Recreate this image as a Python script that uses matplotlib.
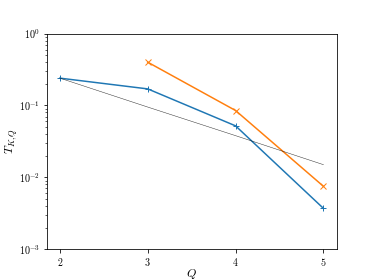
import numpy as np
import matplotlib
matplotlib.use('Agg')
import matplotlib.pyplot as plt

plt.rcParams['font.family'] = 'serif'
plt.rcParams['font.serif'] = ['cmr10']
plt.rcParams['mathtext.fontset'] = 'cm'
plt.rcParams['axes.formatter.use_mathtext'] = True

Q_blue = [2, 3, 4, 5]
T_blue = [0.24, 0.17, 0.052, 0.0037]
Q_orange = [3, 4, 5]
T_orange = [0.40, 0.085, 0.0075]
Q_fit = [2, 3, 4, 5]
T_fit = [0.24, 0.095, 0.038, 0.015]

fig = plt.figure(figsize=(374 / 72, 280 / 72), dpi=72)
ax = fig.add_subplot(111)
ax.plot(Q_blue, T_blue, '-+', color='C0')
ax.plot(Q_orange, T_orange, '-x', color='C1')
ax.plot(Q_fit, T_fit, '-', color='k', lw=0.5, alpha=0.8)
ax.set_yscale('log')
ax.set_ylim(1e-3, 1)
ax.set_xticks([2, 3, 4, 5])
ax.set_xlabel('$Q$', fontsize=12, labelpad=-1)
ax.set_ylabel('$T_{K,Q}$', fontsize=12)
ax.yaxis.set_label_coords(-0.095, 0.5)
fig.savefig('out.png')
